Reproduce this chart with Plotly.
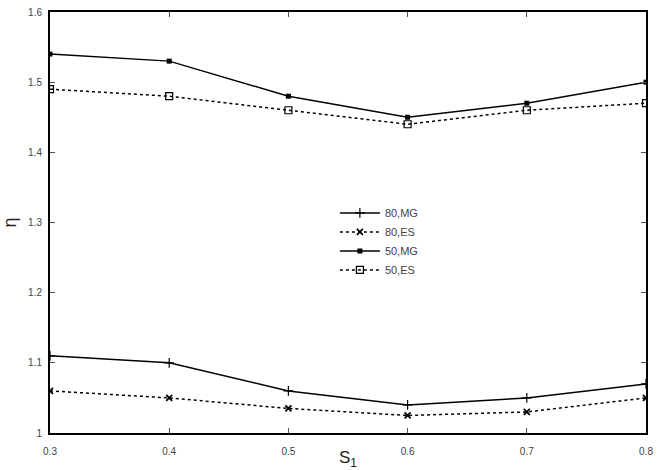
import plotly.graph_objects as go

x_vals = [0.3, 0.4, 0.5, 0.6, 0.7, 0.8]
mg80 = [1.11, 1.10, 1.06, 1.04, 1.05, 1.07]
es80 = [1.06, 1.05, 1.035, 1.025, 1.03, 1.05]
mg50 = [1.54, 1.53, 1.48, 1.45, 1.47, 1.50]
es50 = [1.49, 1.48, 1.46, 1.44, 1.46, 1.47]
x_ticks = [0.3, 0.4, 0.5, 0.6, 0.7, 0.8]
x_tick_labels = ["0.3", "0.4", "0.5", "0.6", "0.7", "0.8"]
y_ticks = [1.0, 1.1, 1.2, 1.3, 1.4, 1.5, 1.6]
y_tick_labels = ["1", "1.1", "1.2", "1.3", "1.4", "1.5", "1.6"]

FONT = "Liberation Sans, Arial, sans-serif"

fig = go.Figure()
fig.add_trace(go.Scatter(x=x_vals, y=mg80, name="80,MG", mode="lines+markers",
                         line=dict(color="black", width=1.5, dash="solid"),
                         marker=dict(symbol="cross-thin", size=7, color="black",
                                     line=dict(color="black", width=1.2))))
fig.add_trace(go.Scatter(x=x_vals, y=es80, name="80,ES", mode="lines+markers",
                         line=dict(color="black", width=1.5, dash="dot"),
                         marker=dict(symbol="x-thin", size=6, color="black",
                                     line=dict(color="black", width=1.8))))
fig.add_trace(go.Scatter(x=x_vals, y=mg50, name="50,MG", mode="lines+markers",
                         line=dict(color="black", width=1.5, dash="solid"),
                         marker=dict(symbol="square", size=5, color="black")))
fig.add_trace(go.Scatter(x=x_vals, y=es50, name="50,ES", mode="lines+markers",
                         line=dict(color="black", width=1.5, dash="dot"),
                         marker=dict(symbol="square-open", size=7, color="black",
                                     line=dict(color="black", width=1.2))))

axis_common = dict(showgrid=False, zeroline=False, showline=True, linecolor="black",
                   linewidth=2, mirror="ticks", ticks="inside", ticklen=5,
                   tickcolor="#555", tickwidth=1, automargin=False,
                   tickfont=dict(family=FONT, size=10, color="#444"))

fig.update_xaxes(range=[0.3, 0.8], tickvals=x_ticks, ticktext=x_tick_labels,
                 ticklabelstandoff=8,
                 title=dict(text="S<sub>1</sub>", font=dict(family=FONT, size=17, color="#222")),
                 **axis_common)
fig.update_yaxes(range=[1.0, 1.6], tickvals=y_ticks, ticktext=y_tick_labels,
                 ticklabelstandoff=4,
                 title=dict(text="η", font=dict(family=FONT, size=18, color="#222")),
                 **axis_common)

fig.update_layout(
    width=664, height=470,
    margin=dict(l=50, r=18, t=12, b=37, autoexpand=False),
    paper_bgcolor="white", plot_bgcolor="white",
    showlegend=True,
    legend=dict(x=0.478, y=0.455, xanchor="left", yanchor="middle",
                bgcolor="rgba(0,0,0,0)", borderwidth=0,
                font=dict(family=FONT, size=11, color="#444"),
                itemwidth=40, tracegroupgap=0),
    font=dict(family=FONT),
)

fig.write_html("out.html")
